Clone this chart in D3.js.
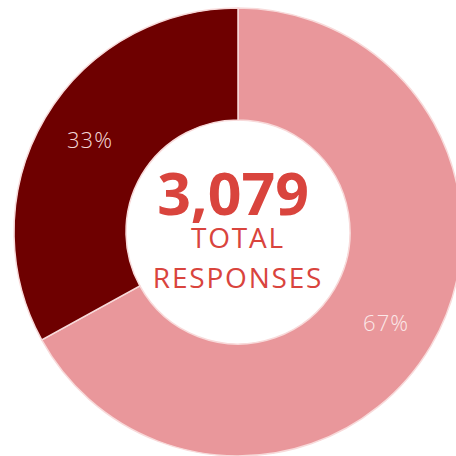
<!DOCTYPE html>
<html><head><meta charset="utf-8">
<script src="https://cdn.jsdelivr.net/npm/d3@7"></script>
<style>html,body{margin:0;padding:0;background:#fff;}svg{display:block;}</style>
</head><body>
<svg id="chart" width="456" height="456"></svg>
<script>
const categories = ["Group A", "Group B"];
const values = [67, 33];
const percentLabels = ["67%", "33%"];
const totalLabel = "3,079";
const subLabels = ["TOTAL", "RESPONSES"];
const colors = ["#e9979b", "#6e0000"];

const svg = d3.select("#chart");
const cx = 238, cy = 232, outerR = 224, innerR = 112;
const g = svg.append("g").attr("transform", `translate(${cx},${cy})`);

const pie = d3.pie().sort(null).value(d => d)(values);
const arc = d3.arc().innerRadius(innerR).outerRadius(outerR);
const labelArc = d3.arc().innerRadius(172).outerRadius(172);

g.selectAll("path").data(pie).join("path")
  .attr("d", arc)
  .attr("fill", (d,i) => colors[i])
  .attr("stroke", "#f8dada")
  .attr("stroke-width", 1.5);

g.selectAll("text.pct").data(pie).join("text")
  .attr("class","pct")
  .attr("transform", d => `translate(${labelArc.centroid(d)})`)
  .attr("text-anchor","middle")
  .attr("dy", (d,i) => i===0 ? "0.5em" : "0.15em")
  .attr("fill", (d,i) => i===0 ? "#fbe8e8" : "#f3d6d6")
  .attr("font-family","'Open Sans', sans-serif")
  .attr("font-size", 22)
  .attr("font-weight", 300)
  .attr("letter-spacing", 1)
  .text((d,i) => percentLabels[i]);

g.append("text")
  .attr("x", -5).attr("y", -17)
  .attr("text-anchor","middle")
  .attr("fill","#d9443d")
  .attr("font-family","'Open Sans', sans-serif")
  .attr("font-weight", 700)
  .attr("font-size", 59)
  .text(totalLabel);

g.selectAll("text.sub").data(subLabels).join("text")
  .attr("class","sub")
  .attr("x", 0)
  .attr("y", (d,i) => 16 + i*40)
  .attr("text-anchor","middle")
  .attr("fill","#d9443d")
  .attr("font-family","'Open Sans', sans-serif")
  .attr("font-weight", 400)
  .attr("font-size", 28)
  .attr("letter-spacing", 1.8)
  .text(d => d);
</script>
</body></html>
